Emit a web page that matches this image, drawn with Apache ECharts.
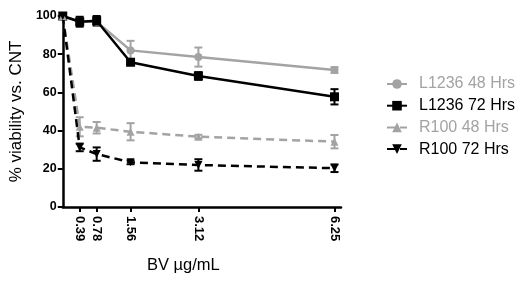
<!DOCTYPE html>
<html><head><meta charset="utf-8">
<script src="https://cdn.jsdelivr.net/npm/echarts@6/dist/echarts.min.js"></script>
<style>html,body{margin:0;padding:0;background:#fff}#c{width:520px;height:286px}</style>
</head><body><div id="c"></div>
<script>
const doses = [0, 0.39, 0.78, 1.56, 3.12, 6.25];
const tickDoses = [0.39, 0.78, 1.56, 3.12, 6.25];
const yTicks = [0, 20, 40, 60, 80, 100];
const seriesNames = ['L1236 48 Hrs', 'L1236 72 Hrs', 'R100 48 Hrs', 'R100 72 Hrs'];
const l1236_48 = [100, 97, 97, 82, 78.5, 71.7];
const l1236_48_err = [0, 1, 1, 5, 5, 1.5];
const l1236_72 = [100, 97, 97.5, 75.8, 68.6, 57.7];
const l1236_72_err = [0, 2.6, 2.5, 1.5, 2, 4];
const r100_48 = [100, 42, 41.5, 39.4, 36.8, 34.2];
const r100_48_err = [0, 5, 3, 4.5, 1, 3.5];
const r100_72 = [100, 31.2, 27.7, 23.4, 22, 20.3];
const r100_72_err = [0, 2, 3.5, 1, 3, 2];

const GRAY = '#a3a3a3', BLACK = '#000';
const FONT = 'Liberation Sans';

function pts(vals){ return doses.map((d,i)=>[d, vals[i]]); }
function errData(vals, errs){ return doses.map((d,i)=>[d, vals[i], errs[i]]); }

function lineSeries(name, vals, color, symbol, rotate, dashed){
  return {
    name, type:'line', data: pts(vals), symbol, symbolSize: symbol==='rect'?9:8,
    symbolRotate: rotate, showAllSymbol:true,
    itemStyle:{color}, lineStyle:{color, width:2.5, type: dashed?[8,5]:'solid'},
    z: 3, animation:false
  };
}
function errSeries(vals, errs, color){
  return {
    type:'custom', data: errData(vals, errs), silent:true, z:2, animation:false,
    renderItem(params, api){
      const x = api.value(0), y = api.value(1), e = api.value(2);
      if (!e) return null;
      const top = api.coord([x, y + e]), bot = api.coord([x, y - e]);
      const w = 4;
      const st = {stroke: color, lineWidth: 2};
      return {type:'group', children:[
        {type:'line', shape:{x1:top[0], y1:top[1], x2:bot[0], y2:bot[1]}, style:st},
        {type:'line', shape:{x1:top[0]-w, y1:top[1], x2:top[0]+w, y2:top[1]}, style:st},
        {type:'line', shape:{x1:bot[0]-w, y1:bot[1], x2:bot[0]+w, y2:bot[1]}, style:st}
      ]};
    }
  };
}

const chart = echarts.init(document.getElementById('c'), null, {renderer:'canvas'});
chart.setOption({
  backgroundColor:'#fff',
  animation:false,
  textStyle:{fontFamily:FONT},
  grid:{left:61, top:16, width:280, height:191, containLabel:false},
  xAxis:{
    type:'value', min:0, max:6.4,
    axisLine:{lineStyle:{color:BLACK, width:2.5}},
    axisTick:{show:true, customValues: tickDoses, length:5, lineStyle:{color:BLACK, width:2}},
    axisLabel:{customValues: tickDoses, rotate:-90, color:BLACK, fontSize:13, fontWeight:'bold', fontFamily:FONT, margin:9,
      formatter: v => v.toFixed(2)},
    splitLine:{show:false}
  },
  yAxis:{
    type:'value', min:0, max:100, interval:20,
    name:'% viability vs. CNT', nameLocation:'middle', nameGap:30,
    nameTextStyle:{color:BLACK, fontSize:17, fontFamily:FONT},
    axisLine:{show:true, lineStyle:{color:BLACK, width:2.5}},
    axisTick:{show:true, length:5, lineStyle:{color:BLACK, width:2}},
    axisLabel:{color:BLACK, fontSize:12.5, fontWeight:'bold', fontFamily:FONT, margin:6},
    splitLine:{show:false}
  },
  legend:{
    orient:'vertical', left:386, top:76, padding:0, itemWidth:20, itemHeight:12, itemGap:5.7,
    textStyle:{fontSize:16, fontFamily:FONT, padding:[0,0,0,7]},
    data:[
      {name:seriesNames[0], textStyle:{color:GRAY}},
      {name:seriesNames[1], textStyle:{color:BLACK}},
      {name:seriesNames[2], textStyle:{color:GRAY}},
      {name:seriesNames[3], textStyle:{color:BLACK}}
    ]
  },
  graphic:[{type:'text', left:147, top:257, style:{text:'BV µg/mL', fill:BLACK, font:'16.5px "Liberation Sans"'}}],
  series:[
    errSeries(l1236_48, l1236_48_err, GRAY),
    errSeries(l1236_72, l1236_72_err, BLACK),
    errSeries(r100_48, r100_48_err, GRAY),
    errSeries(r100_72, r100_72_err, BLACK),
    lineSeries(seriesNames[0], l1236_48, GRAY, 'circle', 0, false),
    lineSeries(seriesNames[1], l1236_72, BLACK, 'rect', 0, false),
    lineSeries(seriesNames[2], r100_48, GRAY, 'triangle', 0, true),
    lineSeries(seriesNames[3], r100_72, BLACK, 'triangle', 180, true)
  ]
});
</script></body></html>
